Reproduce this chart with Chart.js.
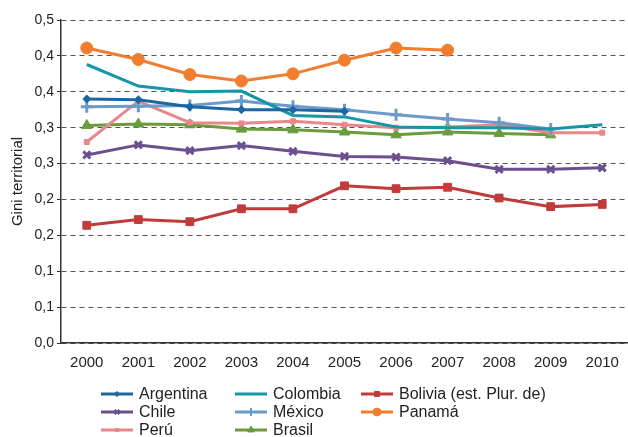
<!DOCTYPE html>
<html>
<head>
<meta charset="utf-8">
<script src="https://cdn.jsdelivr.net/npm/chart.js@4.4.1/dist/chart.umd.min.js"></script>
<style>
  html, body { margin: 0; padding: 0; background: #fff; }
  #wrap { width: 628px; height: 437px; position: relative; }
</style>
</head>
<body>
<div id="wrap"><canvas id="chart"></canvas></div>
<script>
var years = ["2000", "2001", "2002", "2003", "2004", "2005", "2006", "2007", "2008", "2009", "2010"];
var yTickLabels = ["0,0", "0,1", "0,1", "0,2", "0,2", "0,3", "0,3", "0,4", "0,4", "0,5"];

var argentina = [0.340, 0.339, 0.329, 0.325, 0.325, 0.323, null, null, null, null, null];
var colombia  = [0.388, 0.358, 0.350, 0.351, 0.317, 0.315, 0.301, 0.300, 0.300, 0.298, 0.304];
var bolivia   = [0.164, 0.172, 0.169, 0.187, 0.187, 0.219, 0.215, 0.217, 0.202, 0.190, 0.193];
var chile     = [0.262, 0.276, 0.268, 0.275, 0.267, 0.260, 0.259, 0.254, 0.242, 0.242, 0.244];
var mexico    = [0.329, 0.330, 0.331, 0.337, 0.330, 0.325, 0.318, 0.312, 0.307, 0.298, null];
var panama    = [0.411, 0.395, 0.374, 0.365, 0.375, 0.394, 0.411, 0.408, null, null, null];
var peru      = [0.280, 0.337, 0.307, 0.306, 0.309, 0.304, 0.300, 0.301, 0.304, 0.293, 0.293];
var brasil    = [0.303, 0.305, 0.304, 0.298, 0.297, 0.294, 0.290, 0.294, 0.292, 0.290, null];

var font = "'Liberation Sans', Arial, sans-serif";

function series(label, data, color, style, radius, bw) {
    return {
        label: label,
        data: data,
        borderColor: color,
        backgroundColor: color,
        borderWidth: 3,
        tension: 0,
        pointStyle: style,
        pointRadius: radius,
        pointHoverRadius: radius,
        pointBorderWidth: bw || 1,
        pointBorderColor: color,
        pointBackgroundColor: color
    };
}

var datasets = [
    series("Argentina", argentina, "#1c66a3", "rectRot", 4),
    series("Colombia", colombia, "#1597a8", "circle", 0),
    series("Bolivia (est. Plur. de)", bolivia, "#c23b3b", "rect", 5.5),
    series("Chile", chile, "#6c4f8f", "crossRot", 5, 3),
    series("México", mexico, "#6b9bc8", "cross", 6, 3),
    series("Panamá", panama, "#f37d2f", "circle", 6),
    series("Perú", peru, "#e8888a", "rect", 3.5),
    series("Brasil", brasil, "#6a9b3f", "triangle", 6)
];

// legend drawn as a 3 column grid under the chart
var legendPlugin = {
    id: "gridLegend",
    afterDraw: function (c) {
        var ctx = c.ctx;
        var cols = [101, 235, 361];
        var rows = [394, 412, 430];
        ctx.save();
        ctx.textBaseline = "middle";
        ctx.textAlign = "left";
        c.data.datasets.forEach(function (ds, i) {
            var x = cols[i % 3], y = rows[Math.floor(i / 3)];
            ctx.strokeStyle = ds.borderColor;
            ctx.fillStyle = ds.borderColor;
            ctx.lineWidth = 3;
            ctx.beginPath();
            ctx.moveTo(x, y);
            ctx.lineTo(x + 32, y);
            ctx.stroke();
            if (ds.pointRadius > 0) {
                ctx.lineWidth = Math.min(ds.pointBorderWidth, 2);
                Chart.helpers.drawPoint(ctx, {
                    pointStyle: ds.pointStyle,
                    radius: Math.min(ds.pointRadius * 0.65, 4),
                    borderWidth: Math.min(ds.pointBorderWidth, 2),
                    rotation: 0
                }, x + 16, y);
            }
            ctx.font = "16px " + font;
            ctx.fillStyle = "#222";
            ctx.fillText(ds.label, x + 38, y + 1);
        });
        // clipped title at the very top
        ctx.textAlign = "center";
        ctx.textBaseline = "alphabetic";
        ctx.fillStyle = "#444";
        ctx.font = "13px " + font;
        ctx.fillText("(índice)", 320, -3);
        ctx.restore();
    }
};

Chart.defaults.font.family = font;
Chart.defaults.color = "#222";

new Chart(document.getElementById("chart"), {
    type: "line",
    data: { labels: years, datasets: datasets },
    options: {
        responsive: true,
        maintainAspectRatio: false,
        animation: false,
        layout: { autoPadding: false, padding: { top: 20, right: -4, bottom: 62, left: 9 } },
        plugins: {
            legend: { display: false },
            tooltip: { enabled: false }
        },
        scales: {
            x: {
                offset: true,
                grid: { display: false },
                border: { display: true, color: "#333", width: 1.5 },
                ticks: { font: { size: 15 }, color: "#222", padding: 3, maxRotation: 0 }
            },
            y: {
                min: 0,
                max: 0.45,
                ticks: {
                    stepSize: 0.05,
                    font: { size: 14 },
                    color: "#222",
                    padding: 3,
                    callback: function (v, i) { return yTickLabels[i]; }
                },
                grid: {
                    color: "#555",
                    lineWidth: 1,
                    drawTicks: true,
                    tickLength: 4,
                    tickColor: "#333",
                    tickBorderDash: [0, 0]
                },
                border: { display: true, color: "#333", width: 1.5, dash: [5, 4] },
                title: {
                    display: true,
                    text: "Gini territorial",
                    font: { size: 15 },
                    color: "#222",
                    padding: { top: 0, bottom: 2 }
                },
                afterFit: function (s) { s.width = 52; }
            }
        }
    },
    plugins: [legendPlugin]
});
</script>
</body>
</html>
